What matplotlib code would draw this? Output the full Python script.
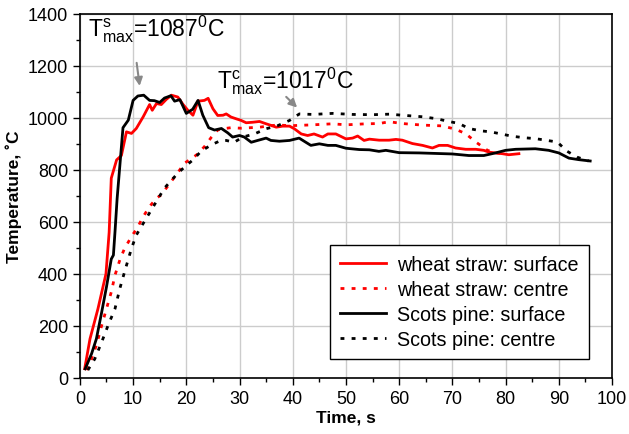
import matplotlib
matplotlib.use('Agg')
import matplotlib.pyplot as plt
from matplotlib.ticker import MultipleLocator

plt.rcParams['font.family'] = ['Liberation Sans', 'DejaVu Sans']
plt.rcParams['mathtext.fontset'] = 'custom'
plt.rcParams['mathtext.rm'] = 'Liberation Sans'
plt.rcParams['mathtext.it'] = 'Liberation Sans'

# wheat straw: surface
ws_surf_t = [0.9, 1.9, 3.4, 4.9, 5.5, 5.9, 6.9, 7.8, 8.75, 9.7, 10.6, 11.9, 13.1, 13.6, 14.4, 15.3,
             16.25, 17.2, 18.4, 19.4, 20.3, 21.25, 22.2, 23.4, 24.1, 25.0, 25.9, 26.9, 27.5, 28.4,
             29.4, 30.3, 31.25, 32.5, 33.75, 35.0, 35.9, 36.9, 38.1, 39.4, 40.3, 41.6, 42.8, 44.0,
             45.6, 46.6, 48.1, 50.0, 51.25, 52.2, 53.4, 54.4, 56.25, 58.1, 59.4, 60.6, 62.5, 64.4,
             66.25, 67.5, 69.1, 70.6, 72.5, 74.4, 75.9, 76.9, 78.1, 79.4, 80.6, 82.5]
ws_surf_T = [35, 150, 266, 400, 560, 768, 838, 855, 946, 940, 959, 1004, 1051, 1029, 1055, 1051,
             1071, 1087, 1080, 1051, 1029, 1010, 1064, 1067, 1075, 1035, 1009, 1010, 1015, 1003,
             996, 990, 981, 983, 986, 977, 971, 964, 968, 968, 958, 938, 932, 938,
             926, 938, 938, 919, 922, 930, 913, 918, 914, 914, 917, 914, 901, 894,
             884, 894, 894, 884, 879, 879, 875, 868, 865, 862, 858, 862]

# wheat straw: centre
ws_cent_t = [1.3, 2.2, 3.1, 4.1, 5.0, 5.9, 6.6, 7.5, 8.4, 9.7, 10.9, 11.9, 13.1, 14.4, 15.3, 18.1,
             19.7, 21.9, 23.4, 24.7, 25.9, 26.9, 28.4, 30.3, 33.75, 36.9, 40.0, 43.75, 47.5, 50.0,
             53.75, 56.25, 58.1, 60.6, 64.4, 68.1, 70.6, 72.5, 74.4, 76.6, 78.1, 80.0]
ws_cent_T = [30, 73, 125, 202, 266, 330, 395, 453, 498, 543, 581, 620, 659, 691, 704, 781,
             826, 857, 889, 925, 953, 958, 962, 960, 964, 972, 970, 973, 977, 973,
             977, 978, 985, 978, 972, 969, 956, 939, 907, 875, 865, 862]

# Scots pine: surface
sp_surf_t = [1.0, 2.2, 3.1, 4.1, 5.0, 5.9, 6.3, 6.6, 7.0, 8.1, 9.1, 10.0, 10.9, 12.0, 13.1, 14.0,
             15.0, 15.9, 17.1, 17.8, 18.8, 20.0, 21.2, 22.2, 23.1, 24.2, 25.3, 26.6, 27.8, 28.7,
             30.0, 30.9, 32.2, 33.4, 35.0, 35.9, 37.5, 39.4, 41.2, 43.4, 45.0, 46.6, 48.1, 50.0,
             52.5, 54.4, 56.2, 57.5, 60.0, 63.8, 70.0, 73.1, 75.9, 78.1, 80.0, 81.9, 85.6, 88.1,
             90.0, 91.9, 93.8, 95.9]
sp_surf_T = [35, 93, 150, 253, 350, 457, 472, 562, 690, 962, 991, 1067, 1084, 1087, 1067, 1066,
             1059, 1076, 1085, 1064, 1070, 1017, 1033, 1067, 1010, 962, 953, 959, 942, 926,
             932, 926, 906, 913, 922, 913, 910, 913, 922, 894, 900, 894, 894, 883,
             878, 877, 871, 875, 866, 865, 861, 855, 855, 865, 875, 879, 881, 875,
             865, 845, 839, 834]

# Scots pine: centre
sp_cent_t = [1.5, 2.8, 4.1, 5.3, 6.6, 7.5, 8.4, 9.7, 10.6, 11.9, 13.4, 15.9, 18.4, 20.0, 21.25,
             22.8, 24.7, 26.6, 27.5, 29.0, 30.6, 32.8, 35.0, 37.2, 39.4, 41.25, 43.75, 47.5, 51.25,
             55.0, 58.1, 60.6, 64.4, 66.9, 69.1, 71.25, 73.1, 75.3, 77.2, 79.4, 81.25, 83.75, 85.6,
             87.5, 89.7, 91.6, 93.4, 95.6]
sp_cent_T = [30, 73, 138, 202, 266, 343, 408, 498, 549, 594, 645, 730, 787, 817, 838,
             872, 896, 914, 913, 906, 926, 938, 958, 970, 990, 1015, 1013, 1017, 1013,
             1012, 1014, 1010, 1004, 997, 987, 978, 959, 950, 946, 937, 929, 923, 920,
             914, 907, 871, 849, 834]

fig = plt.figure(figsize=(6.29, 4.35), dpi=100)
ax = fig.add_axes([0.127, 0.129, 0.846, 0.837])

dots = (1.4, 2.6)
ax.plot(ws_surf_t, ws_surf_T, color='#ff0000', lw=2, label='wheat straw: surface')
ax.plot(ws_cent_t, ws_cent_T, color='#ff0000', lw=2, dashes=dots, label='wheat straw: centre')
ax.plot(sp_surf_t, sp_surf_T, color='black', lw=2, label='Scots pine: surface')
ax.plot(sp_cent_t, sp_cent_T, color='black', lw=2, dashes=dots, label='Scots pine: centre')

ax.set_xlim(0, 100)
ax.set_ylim(0, 1400)
ax.xaxis.set_major_locator(MultipleLocator(10))
ax.xaxis.set_minor_locator(MultipleLocator(5))
ax.yaxis.set_major_locator(MultipleLocator(200))
ax.yaxis.set_minor_locator(MultipleLocator(100))
ax.tick_params(which='major', direction='out', length=5, width=1, labelsize=13)
ax.tick_params(which='minor', direction='out', length=3, width=1)
ax.grid(True, which='major', color='#cccccc', lw=1)
ax.set_axisbelow(True)
for s in ax.spines.values():
    s.set_linewidth(1.2)

ax.set_xlabel('Time, s', fontsize=12.5, fontweight='bold', labelpad=2)
ax.set_ylabel('Temperature, \u02daC', fontsize=12.5, fontweight='bold', labelpad=4)

ax.annotate(r'T$^{\rm s}_{\rm max}$=1087$^{\rm 0}$C', xy=(11.3, 1118), xytext=(1.5, 1285),
            fontsize=16.5, ha='left', va='bottom')
ax.annotate('', xy=(11.3, 1112), xytext=(10.6, 1222),
            arrowprops=dict(arrowstyle='-|>', color='#888888', lw=1.5, mutation_scale=12))
ax.annotate(r'T$^{\rm c}_{\rm max}$=1017$^{\rm 0}$C', xy=(0, 0), xytext=(25.8, 1085),
            fontsize=16.5, ha='left', va='bottom')
ax.annotate('', xy=(41.2, 1032), xytext=(38.4, 1088),
            arrowprops=dict(arrowstyle='-|>', color='#888888', lw=1.5, mutation_scale=12))

leg = ax.legend(loc='lower right', bbox_to_anchor=(0.975, 0.026), fontsize=14.2,
                frameon=True, fancybox=False, edgecolor='black', framealpha=1,
                handlelength=2.3, handletextpad=0.6, borderpad=0.5, labelspacing=0.3)
leg.get_frame().set_linewidth(1)

fig.savefig('out.png', dpi=100)
